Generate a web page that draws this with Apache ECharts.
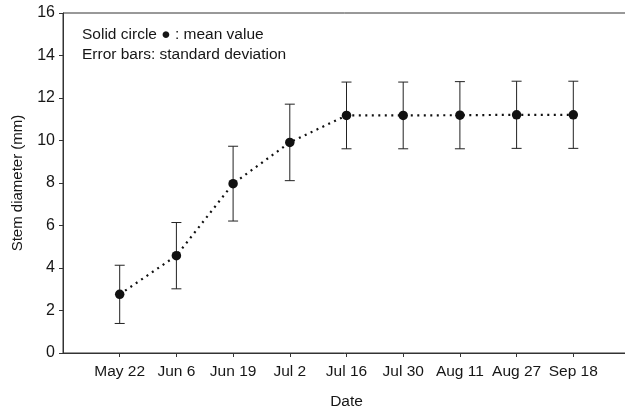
<!DOCTYPE html>
<html>
<head>
<meta charset="utf-8">
<script src="https://cdn.jsdelivr.net/npm/echarts@6/dist/echarts.min.js"></script>
<style>
  html, body { margin: 0; padding: 0; background: #fff; }
  #chart { width: 625px; height: 409px; }
</style>
</head>
<body>
<div id="chart"></div>
<script>
// Sampling dates
const dates = ['May 22', 'Jun 6', 'Jun 19', 'Jul 2', 'Jul 16', 'Jul 30', 'Aug 11', 'Aug 27', 'Sep 18'];
// Mean stem diameter (mm)
const meanDiameter = [2.76, 4.58, 7.97, 9.91, 11.18, 11.18, 11.19, 11.21, 11.21];
// Standard deviation (mm)
const stdDev = [1.37, 1.56, 1.76, 1.80, 1.57, 1.57, 1.58, 1.58, 1.58];
// Y axis ticks
const yTicks = [0, 2, 4, 6, 8, 10, 12, 14, 16];

const FONT = 'Liberation Sans, Arial, Helvetica, sans-serif';
const INK = '#161616';

// Padded category list: one empty slot on each side of the dates
const slots = [''].concat(dates, ['']);
const meanPoints = meanDiameter.map((m, i) => [i + 1, m]);
const errPoints = meanDiameter.map((m, i) => [i + 1, m - stdDev[i], m + stdDev[i]]);

const chart = echarts.init(document.getElementById('chart'));
chart.setOption({
  animation: false,
  backgroundColor: '#fff',
  // plot frame runs past the right edge of the canvas
  grid: {
    left: 63, top: 13, width: 567, height: 340,
    outerBoundsMode: 'none', containLabel: false,
    show: true, borderColor: '#333', borderWidth: 1
  },
  xAxis: {
    type: 'category',
    data: slots,
    boundaryGap: false,
    name: 'Date',
    nameLocation: 'middle',
    nameGap: 41,
    nameTextStyle: { fontFamily: FONT, fontSize: 15.5, color: INK },
    axisLine: { lineStyle: { color: '#333', width: 1 } },
    axisTick: { length: 4, lineStyle: { color: '#333' }, interval: (i, v) => v !== '' },
    axisLabel: { interval: 0, margin: 11, fontFamily: FONT, fontSize: 15.5, color: INK },
    splitLine: { show: false }
  },
  yAxis: {
    type: 'value',
    min: yTicks[0],
    max: yTicks[yTicks.length - 1],
    interval: yTicks[1] - yTicks[0],
    name: 'Stem diameter (mm)',
    nameLocation: 'middle',
    nameGap: 38,
    nameTextStyle: { fontFamily: FONT, fontSize: 15, color: INK },
    axisLine: { show: true, lineStyle: { color: '#333', width: 1 } },
    axisTick: { show: true, length: 4, lineStyle: { color: '#333' } },
    axisLabel: { margin: 8, fontFamily: FONT, fontSize: 16, color: INK },
    splitLine: { show: false }
  },
  graphic: [
    { type: 'text', x: 82, y: 35, style: { text: 'Solid circle \u25CF : mean value', font: '15.5px ' + FONT, fill: INK, verticalAlign: 'middle' } },
    { type: 'text', x: 82, y: 55, style: { text: 'Error bars: standard deviation', font: '15.5px ' + FONT, fill: INK, verticalAlign: 'middle' } }
  ],
  series: [
    {
      type: 'custom',
      data: errPoints,
      z: 2,
      renderItem: function (params, api) {
        const x = api.value(0);
        const lo = api.coord([x, api.value(1)]);
        const hi = api.coord([x, api.value(2)]);
        const hw = 5;
        const style = { stroke: '#222', lineWidth: 1 };
        return {
          type: 'group',
          children: [
            { type: 'line', shape: { x1: lo[0], y1: lo[1], x2: hi[0], y2: hi[1] }, style: style },
            { type: 'line', shape: { x1: lo[0] - hw, y1: lo[1], x2: lo[0] + hw, y2: lo[1] }, style: style },
            { type: 'line', shape: { x1: hi[0] - hw, y1: hi[1], x2: hi[0] + hw, y2: hi[1] }, style: style }
          ]
        };
      }
    },
    {
      type: 'line',
      data: meanPoints,
      z: 3,
      symbol: 'circle',
      symbolSize: 9.5,
      itemStyle: { color: '#111' },
      lineStyle: { color: '#111', width: 2.2, type: [2, 4.5] }
    }
  ]
});
</script>
</body>
</html>
